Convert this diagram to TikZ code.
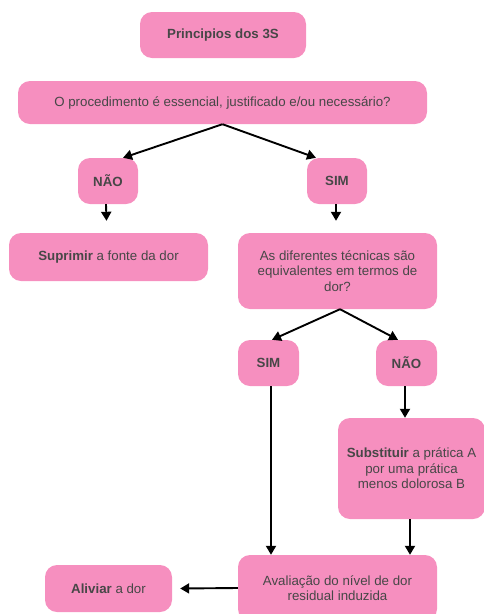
\documentclass[tikz,border=0pt]{standalone}
\usepackage{fontspec}
\setmainfont{Liberation Sans}
\usetikzlibrary{arrows.meta}
\definecolor{rosa}{HTML}{F68FBF}
\definecolor{texto}{HTML}{474747}
\begin{document}
\begin{tikzpicture}
[x=1pt, y=-1pt,
caixa/.style={fill=rosa, rounded corners=12pt, text=texto, align=center, inner sep=0pt,
  font=\fontsize{13.3}{15.5}\selectfont},
seta/.style={line width=1.9pt, -{Triangle[length=9pt, width=10pt]}}]
\useasboundingbox (0,0) rectangle (483,614);
\node [caixa, minimum width=166pt, minimum height=46pt] (tres) at (223,35) {\textbf{Principios dos 3S}};
\node [caixa, minimum width=409pt, minimum height=43pt] (proc) at (222.5,102.5) {O procedimento é essencial, justificado e/ou necessário?};
\node [caixa, minimum width=60pt, minimum height=46pt] (nao1) at (108,181) {\textbf{NÃO}};
\node [caixa, minimum width=60pt, minimum height=46pt] (sim1) at (337,181) {\textbf{SIM}};
\node [caixa, minimum width=199pt, minimum height=48pt] (supr) at (108.5,257) {\textbf{Suprimir} a fonte da dor};
\node [caixa, minimum width=199pt, minimum height=76pt] (tecn) at (337.5,271) {As diferentes técnicas são\\ equivalentes em termos de\\ dor?};
\node [caixa, minimum width=61pt, minimum height=46pt] (sim2) at (268.5,363) {\textbf{SIM}};
\node [caixa, minimum width=61pt, minimum height=46pt] (nao2) at (406.5,363) {\textbf{NÃO}};
\node [caixa, minimum width=147pt, minimum height=101pt] (subs) at (411.5,468.5) {\textbf{Substituir} a prática A\\ por uma prática\\ menos dolorosa B};
\node [caixa, minimum width=199pt, minimum height=66pt] (aval) at (337.5,588) {Avaliação do nível de dor\\ residual induzida};
\node [caixa, minimum width=127pt, minimum height=47pt] (aliv) at (108.5,588.5) {\textbf{Aliviar} a dor};
% ramos da primeira pergunta
\draw [seta] (proc.south) -- ([xshift=15pt]nao1.north);
\draw [seta] (proc.south) -- ([xshift=-21pt]sim1.north);
\draw [seta] ([xshift=-2pt]nao1.south) -- ([xshift=-2pt, yshift=12pt]supr.north);
\draw [seta] ([xshift=-1pt]sim1.south) -- ([xshift=-1.5pt, yshift=12pt]tecn.north);
% ramos da segunda pergunta
\draw [seta] ([xshift=2.5pt]tecn.south) -- ([xshift=3.5pt]sim2.north);
\draw [seta] ([xshift=2.5pt]tecn.south) -- ([xshift=-8.5pt]nao2.north);
\draw [seta] ([xshift=2.5pt]sim2.south) -- ([xshift=-66.5pt]aval.north);
\draw [seta] ([xshift=-1.5pt]nao2.south) -- ([xshift=-6.5pt]subs.north);
\draw [seta] ([xshift=-1.5pt]subs.south) -- ([xshift=72.5pt]aval.north);
\draw [seta] (aval.west) -- ([xshift=8pt]aliv.east);
\end{tikzpicture}
\end{document}
